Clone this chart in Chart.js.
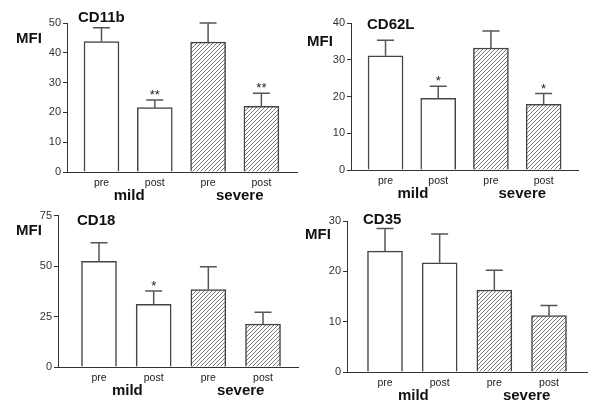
<!DOCTYPE html>
<html>
<head>
<meta charset="utf-8">
<script src="https://cdn.jsdelivr.net/npm/chart.js@4.4.0/dist/chart.umd.min.js"></script>
<style>
  body { margin: 0; background: #fff; }
  #wrap { position: relative; width: 600px; height: 415px; overflow: hidden; }
  #wrap canvas { position: absolute; }
</style>
</head>
<body>
<div id="wrap">
  <canvas id="cd11b" width="300" height="207" style="left:0;top:0"></canvas>
  <canvas id="cd62l" width="300" height="207" style="left:300px;top:0"></canvas>
  <canvas id="cd18" width="300" height="208" style="left:0;top:207px"></canvas>
  <canvas id="cd35" width="300" height="208" style="left:300px;top:207px"></canvas>
</div>
<script>
const categories = ["pre", "post", "pre", "post"];
const groups = ["mild", "severe"];
const groupOf = [0, 0, 1, 1];

const cd11bMeans = [43.8, 21.6, 43.6, 22.0];
const cd11bUpper = [48.4, 24.2, 50.0, 26.4];
const cd11bStars = ["", "**", "", "**"];
const cd11bTicks = [0, 10, 20, 30, 40, 50];

const cd62lMeans = [31.1, 19.5, 33.2, 17.9];
const cd62lUpper = [35.3, 22.8, 37.8, 20.8];
const cd62lStars = ["", "*", "", "*"];
const cd62lTicks = [0, 10, 20, 30, 40];

const cd18Means = [52.4, 31.0, 38.4, 21.2];
const cd18Upper = [61.5, 37.7, 49.7, 27.1];
const cd18Stars = ["", "*", "", ""];
const cd18Ticks = [0, 25, 50, 75];

const cd35Means = [24.0, 21.7, 16.3, 11.2];
const cd35Upper = [28.5, 27.4, 20.2, 13.2];
const cd35Stars = ["", "", "", ""];
const cd35Ticks = [0, 10, 20, 30];

const FONT = "'Liberation Sans', Arial, sans-serif";

function hatchPattern(ctx) {
  const c = document.createElement("canvas");
  c.width = 4;
  c.height = 4;
  const g = c.getContext("2d");
  g.fillStyle = "#fff";
  g.fillRect(0, 0, 4, 4);
  g.strokeStyle = "#7a7a7a";
  g.lineWidth = 1;
  g.beginPath();
  g.moveTo(0, 4); g.lineTo(4, 0);
  g.moveTo(-1, 1); g.lineTo(1, -1);
  g.moveTo(3, 5); g.lineTo(5, 3);
  g.stroke();
  return ctx.createPattern(c, "repeat");
}

// error bars, stars, group names, MFI and panel title
const panelPlugin = {
  id: "panel",
  afterDatasetsDraw(chart, args, opts) {
    const ctx = chart.ctx;
    const xs = chart.scales.x;
    const ys = chart.scales.y;
    const area = chart.chartArea;
    ctx.save();
    ctx.strokeStyle = "#555";
    ctx.lineWidth = 1.5;
    opts.means.forEach((m, i) => {
      const px = xs.getPixelForValue(i);
      const base = ys.getPixelForValue(m);
      const top = ys.getPixelForValue(opts.upper[i]);
      ctx.beginPath();
      ctx.moveTo(px, base);
      ctx.lineTo(px, top);
      ctx.moveTo(px - 8.5, top);
      ctx.lineTo(px + 8.5, top);
      ctx.stroke();
      if (opts.stars[i]) {
        ctx.fillStyle = "#222";
        ctx.font = "13px " + FONT;
        ctx.textAlign = "center";
        ctx.textBaseline = "alphabetic";
        ctx.fillText(opts.stars[i], px, top - 1);
      }
    });

    ctx.fillStyle = "#111";
    ctx.font = "bold 15px " + FONT;
    ctx.textAlign = "center";
    ctx.textBaseline = "middle";
    groups.forEach((g, gi) => {
      const idx = groupOf.map((v, i) => (v === gi ? i : -1)).filter((i) => i >= 0);
      const mid = (xs.getPixelForValue(idx[0]) + xs.getPixelForValue(idx[idx.length - 1])) / 2;
      ctx.fillText(g, mid + (gi === 0 ? 1 : 5), area.bottom + 23.5);
    });

    ctx.textAlign = "left";
    ctx.fillText("MFI", opts.mfi[0], opts.mfi[1]);
    ctx.fillText(opts.title, opts.titlePos[0], opts.titlePos[1]);
    ctx.restore();
  },
};

function makePanel(id, cfg) {
  const canvas = document.getElementById(id);
  const ctx = canvas.getContext("2d");
  const fills = categories.map((c, i) => (groupOf[i] === 1 ? hatchPattern(ctx) : "#ffffff"));
  const yMax = cfg.ticks[cfg.ticks.length - 1];

  return new Chart(canvas, {
    type: "bar",
    data: {
      datasets: [
        {
          data: cfg.means.map((v, i) => ({ x: i, y: v })),
          backgroundColor: fills,
          borderColor: "#444",
          borderWidth: 1.5,
          barThickness: 35,
        },
      ],
    },
    options: {
      responsive: false,
      animation: false,
      devicePixelRatio: 1,
      layout: { padding: { top: cfg.padTop, right: cfg.padRight, left: 0, bottom: 0 } },
      plugins: {
        legend: { display: false },
        tooltip: { enabled: false },
        panel: {
          means: cfg.means,
          upper: cfg.upper,
          stars: cfg.stars,
          title: cfg.title,
          mfi: cfg.mfi,
          titlePos: cfg.titlePos,
        },
      },
      scales: {
        x: {
          type: "linear",
          min: cfg.xMin,
          max: cfg.xMax,
          offset: false,
          grid: { display: false, drawTicks: false, offset: false },
          border: { display: true, color: "#333", width: 1 },
          ticks: {
            color: "#222",
            font: { family: FONT, size: 10.5 },
            padding: 5,
            autoSkip: false,
            maxRotation: 0,
            callback: (v) => categories[v],
          },
          afterBuildTicks: (s) => {
            s.ticks = categories.map((c, i) => ({ value: i }));
          },
          afterFit: (s) => {
            s.height = cfg.xAxisH;
          },
        },
        y: {
          min: 0,
          max: yMax,
          grid: { display: true, drawOnChartArea: false, drawTicks: true, tickLength: 4, color: "#333" },
          border: { display: true, color: "#333", width: 1 },
          ticks: {
            color: "#333",
            font: { family: FONT, size: 11 },
            padding: 2,
          },
          afterBuildTicks: (s) => {
            s.ticks = cfg.ticks.map((t) => ({ value: t }));
          },
          afterFit: (s) => {
            s.width = cfg.yAxisW;
          },
        },
      },
    },
    plugins: [panelPlugin],
  });
}

makePanel("cd11b", {
  title: "CD11b", means: cd11bMeans, upper: cd11bUpper, stars: cd11bStars, ticks: cd11bTicks,
  yAxisW: 67, padTop: 23, padRight: 3, xAxisH: 35, xMin: -0.647, xMax: 3.668,
  mfi: [16, 39], titlePos: [78, 18],
});
makePanel("cd62l", {
  title: "CD62L", means: cd62lMeans, upper: cd62lUpper, stars: cd62lStars, ticks: cd62lTicks,
  yAxisW: 51, padTop: 23, padRight: 22, xAxisH: 37, xMin: -0.655, xMax: 3.652,
  mfi: [7, 42], titlePos: [67, 25],
});
makePanel("cd18", {
  title: "CD18", means: cd18Means, upper: cd18Upper, stars: cd18Stars, ticks: cd18Ticks,
  yAxisW: 58, padTop: 8, padRight: 2, xAxisH: 48, xMin: -0.75, xMax: 3.64,
  mfi: [16, 24], titlePos: [77, 14],
});
makePanel("cd35", {
  title: "CD35", means: cd35Means, upper: cd35Upper, stars: cd35Stars, ticks: cd35Ticks,
  yAxisW: 47, padTop: 14, padRight: 13, xAxisH: 43, xMin: -0.695, xMax: 3.695,
  mfi: [5, 28], titlePos: [63, 13],
});
</script>
</body>
</html>
